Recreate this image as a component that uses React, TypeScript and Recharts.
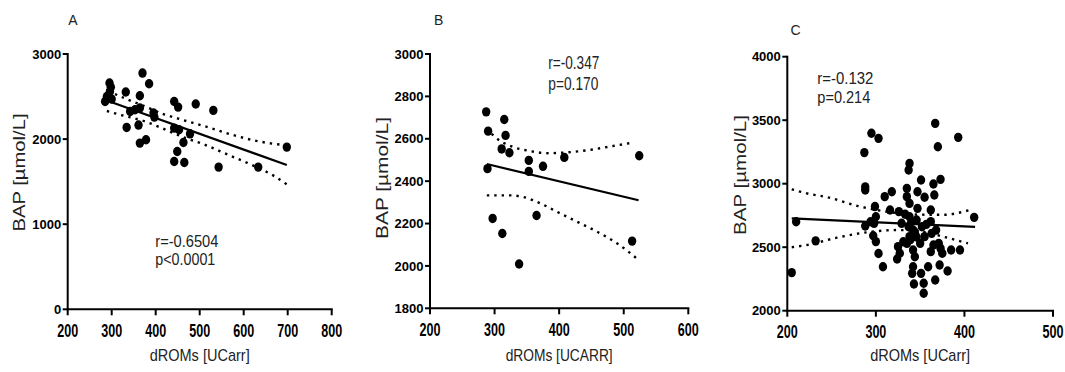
import { ComposedChart, Line, Scatter, XAxis, YAxis } from 'recharts';

const FONT = '"Liberation Sans", Arial, sans-serif';

// Panel A: dROMs vs BAP (n=33)
const aPoints = [
  { x: 285, y: 2442 }, { x: 295, y: 2659 }, { x: 296, y: 2560 }, { x: 289, y: 2501 },
  { x: 298, y: 2610 }, { x: 300, y: 2470 }, { x: 332, y: 2553 }, { x: 342, y: 2325 },
  { x: 353, y: 2345 }, { x: 364, y: 2365 }, { x: 364, y: 2509 }, { x: 370, y: 2776 },
  { x: 385, y: 2651 }, { x: 334, y: 2137 }, { x: 361, y: 2165 }, { x: 364, y: 1953 },
  { x: 378, y: 1992 }, { x: 395, y: 2306 }, { x: 397, y: 2259 }, { x: 442, y: 2442 },
  { x: 451, y: 2376 }, { x: 442, y: 2129 }, { x: 453, y: 2110 }, { x: 463, y: 1960 },
  { x: 449, y: 1854 }, { x: 442, y: 1737 }, { x: 465, y: 1725 }, { x: 478, y: 2062 },
  { x: 491, y: 2412 }, { x: 531, y: 2337 }, { x: 543, y: 1671 }, { x: 633, y: 1671 },
  { x: 698, y: 1906 },
];
const aFit = [{ x: 292, y: 2448 }, { x: 698, y: 1695 }];
const aUpper = [
  { x: 292, y: 2565 }, { x: 334, y: 2470 }, { x: 376, y: 2384 }, { x: 414, y: 2300 },
  { x: 459, y: 2229 }, { x: 512, y: 2150 }, { x: 573, y: 2052 }, { x: 626, y: 1982 },
  { x: 698, y: 1925 },
];
const aLower = [
  { x: 289, y: 2330 }, { x: 319, y: 2286 }, { x: 376, y: 2207 }, { x: 414, y: 2129 },
  { x: 459, y: 2031 }, { x: 512, y: 1933 }, { x: 565, y: 1815 }, { x: 618, y: 1698 },
  { x: 671, y: 1560 }, { x: 698, y: 1468 },
];

// Panel B (n=17)
const bPoints = [
  { x: 287, y: 2727 }, { x: 290, y: 2636 }, { x: 289, y: 2459 }, { x: 315, y: 2691 },
  { x: 317, y: 2616 }, { x: 311, y: 2552 }, { x: 323, y: 2534 }, { x: 353, y: 2498 },
  { x: 353, y: 2446 }, { x: 375, y: 2470 }, { x: 408, y: 2512 }, { x: 524, y: 2520 },
  { x: 297, y: 2224 }, { x: 312, y: 2153 }, { x: 338, y: 2009 }, { x: 365, y: 2238 },
  { x: 513, y: 2117 },
];
const bFit = [{ x: 288, y: 2481 }, { x: 523, y: 2310 }];
const bUpper = [
  { x: 288, y: 2650 }, { x: 298, y: 2616 }, { x: 329, y: 2561 }, { x: 350, y: 2545 },
  { x: 382, y: 2532 }, { x: 418, y: 2537 }, { x: 449, y: 2548 }, { x: 480, y: 2564 },
  { x: 513, y: 2581 },
];
const bLower = [
  { x: 288, y: 2333 }, { x: 324, y: 2333 }, { x: 345, y: 2325 }, { x: 366, y: 2302 },
  { x: 397, y: 2255 }, { x: 428, y: 2208 }, { x: 459, y: 2161 }, { x: 490, y: 2106 },
  { x: 523, y: 2028 },
];

// Panel C (dense cloud)
const cPoints = [
  { x: 205, y: 2300 }, { x: 210, y: 2700 }, { x: 232, y: 2550 }, { x: 287, y: 3245 },
  { x: 295, y: 3397 }, { x: 303, y: 3357 }, { x: 288, y: 2975 }, { x: 288, y: 2950 },
  { x: 288, y: 2667 }, { x: 294, y: 2700 }, { x: 299, y: 2820 }, { x: 300, y: 2740 },
  { x: 298, y: 2688 }, { x: 297, y: 2590 }, { x: 300, y: 2544 }, { x: 303, y: 2450 },
  { x: 308, y: 2346 }, { x: 310, y: 2898 }, { x: 318, y: 2937 }, { x: 316, y: 2793 },
  { x: 326, y: 2780 }, { x: 329, y: 2688 }, { x: 325, y: 2504 }, { x: 327, y: 2452 },
  { x: 324, y: 2407 }, { x: 331, y: 2543 }, { x: 338, y: 3160 }, { x: 337, y: 3108 },
  { x: 335, y: 2963 }, { x: 335, y: 2898 }, { x: 338, y: 2845 }, { x: 338, y: 2740 },
  { x: 337, y: 2661 }, { x: 338, y: 2583 }, { x: 342, y: 2635 }, { x: 335, y: 2530 },
  { x: 342, y: 2478 }, { x: 344, y: 2425 }, { x: 342, y: 2346 }, { x: 341, y: 2294 },
  { x: 343, y: 2210 }, { x: 351, y: 3029 }, { x: 347, y: 2937 }, { x: 355, y: 2893 },
  { x: 347, y: 2806 }, { x: 346, y: 2714 }, { x: 352, y: 2661 }, { x: 355, y: 2583 },
  { x: 350, y: 2530 }, { x: 362, y: 2793 }, { x: 362, y: 2701 }, { x: 363, y: 2609 },
  { x: 365, y: 2517 }, { x: 351, y: 2294 }, { x: 354, y: 2216 }, { x: 354, y: 2137 },
  { x: 359, y: 2346 }, { x: 367, y: 2242 }, { x: 372, y: 2360 }, { x: 381, y: 2313 },
  { x: 365, y: 2998 }, { x: 366, y: 2911 }, { x: 373, y: 3034 }, { x: 367, y: 3475 },
  { x: 370, y: 3291 }, { x: 393, y: 3365 }, { x: 368, y: 2635 }, { x: 371, y: 2530 },
  { x: 373, y: 2491 }, { x: 375, y: 2452 }, { x: 385, y: 2478 }, { x: 395, y: 2478 },
  { x: 362, y: 2465 }, { x: 411, y: 2735 }, { x: 346, y: 2580 }, { x: 340, y: 2700 },
  { x: 333, y: 2760 }, { x: 357, y: 2680 }, { x: 344, y: 2620 }, { x: 339, y: 2560 },
];
const cFit = [{ x: 205, y: 2727 }, { x: 412, y: 2660 }];
const cUpper = [
  { x: 205, y: 2956 }, { x: 222, y: 2924 }, { x: 246, y: 2892 }, { x: 280, y: 2824 },
  { x: 312, y: 2780 }, { x: 345, y: 2757 }, { x: 376, y: 2755 }, { x: 406, y: 2793 },
];
const cLower = [
  { x: 205, y: 2500 }, { x: 222, y: 2517 }, { x: 256, y: 2575 }, { x: 293, y: 2620 },
  { x: 323, y: 2635 }, { x: 350, y: 2625 }, { x: 376, y: 2583 }, { x: 404, y: 2530 },
];

const aXTicks = [200, 300, 400, 500, 600, 700, 800];
const aYTicks = [0, 1000, 2000, 3000];
const bXTicks = [200, 300, 400, 500, 600];
const bYTicks = [1800, 2000, 2200, 2400, 2600, 2800, 3000];
const cXTicks = [200, 300, 400, 500];
const cYTicks = [2000, 2500, 3000, 3500, 4000];

const YTick = (props: any) => (
  <text x={props.x} y={props.y} dy={4.6} textAnchor="end" fontSize={13} fontWeight="bold" fontFamily={FONT} fill="#000">
    {props.payload.value}
  </text>
);

// x tick labels are drawn tall and narrow in the original
const XTick = (props: any) => (
  <text
    transform={`translate(${props.x}, ${props.y + 21.5}) scale(0.68, 1)`}
    textAnchor="middle"
    fontSize={18.5}
    fontWeight="bold"
    fontFamily={FONT}
    fill="#000"
  >
    {props.payload.value}
  </text>
);

const XTitle = (props: any) => {
  const vb = props.viewBox || {};
  return (
    <text
      x={vb.x + vb.width / 2}
      y={361}
      textAnchor="middle"
      fontSize={17}
      fontFamily={FONT}
      fill="#222"
      textLength={props.len}
      lengthAdjust="spacingAndGlyphs"
    >
      {props.text}
    </text>
  );
};

const YTitle = (props: any) => (
  <text
    x={props.bx}
    y={props.cy}
    transform={`rotate(-90, ${props.bx}, ${props.cy})`}
    textAnchor="middle"
    fontSize={17}
    fontFamily={FONT}
    fill="#222"
    textLength={props.len}
    lengthAdjust="spacingAndGlyphs"
  >
    BAP [µmol/L]
  </text>
);

const Marker = (props: any) => <ellipse cx={props.cx} cy={props.cy} rx={4.2} ry={4.7} fill="#000" />;

const axisStyle = { stroke: '#000', strokeWidth: 2, strokeLinecap: 'square' as const };

function Panel(p: any) {
  return (
    <div style={{ position: 'absolute', left: p.left, top: 0, width: p.width, height: 372 }}>
      <ComposedChart width={p.width} height={372} margin={{ top: p.top, right: p.right, bottom: 0, left: 0 }}>
        <XAxis
          type="number"
          dataKey="x"
          domain={p.xDomain}
          ticks={p.xTicks}
          interval={0}
          allowDataOverflow
          height={p.xHeight}
          axisLine={axisStyle}
          tickLine={{ stroke: '#000', strokeWidth: 2 }}
          tickSize={6}
          tickMargin={0}
          tick={<XTick />}
          label={<XTitle text={p.xTitle} len={p.xTitleLen} />}
        />
        <YAxis
          type="number"
          dataKey="y"
          domain={p.yDomain}
          ticks={p.yTicks}
          interval={0}
          allowDataOverflow
          width={p.yWidth}
          axisLine={axisStyle}
          tickLine={{ stroke: '#000', strokeWidth: 2 }}
          tickSize={5}
          tickMargin={1.5}
          tick={<YTick />}
          label={<YTitle bx={p.yTitleX} cy={p.yTitleY} len={p.yTitleLen} />}
        />
        <Line data={p.upper} dataKey="y" type="monotone" stroke="#000" strokeWidth={2.4} strokeDasharray="2.4 5" dot={false} isAnimationActive={false} />
        <Line data={p.lower} dataKey="y" type="monotone" stroke="#000" strokeWidth={2.4} strokeDasharray="2.4 5" dot={false} isAnimationActive={false} />
        <Line data={p.fit} dataKey="y" type="linear" stroke="#000" strokeWidth={2.2} dot={false} isAnimationActive={false} />
        <Scatter data={p.points} fill="#000" shape={<Marker />} isAnimationActive={false} />
      </ComposedChart>
    </div>
  );
}

const Txt = (props: any) => (
  <text x={props.x} y={props.y} fontSize={props.fs} fontFamily={FONT} fill="#222" textLength={props.len} lengthAdjust="spacingAndGlyphs">
    {props.children}
  </text>
);

export default function App() {
  return (
    <div style={{ position: 'absolute', left: 0, top: 0, width: 1065, height: 372, background: '#fff', overflow: 'hidden' }}>
      <Panel
        left={0} width={360} top={54} right={28.3} xHeight={62.7} yWidth={67.7}
        xDomain={[200, 800]} xTicks={aXTicks} yDomain={[0, 3000]} yTicks={aYTicks}
        points={aPoints} fit={aFit} upper={aUpper} lower={aLower}
        xTitle="dROMs [UCarr]" xTitleLen={100} yTitleX={25} yTitleY={172.5} yTitleLen={118}
      />
      <Panel
        left={360} width={370} top={54} right={41.7} xHeight={63.7} yWidth={70}
        xDomain={[200, 600]} xTicks={bXTicks} yDomain={[1800, 3000]} yTicks={bYTicks}
        points={bPoints} fit={bFit} upper={bUpper} lower={bLower}
        xTitle="dROMs [UCARR]" xTitleLen={107} yTitleX={28} yTitleY={178} yTitleLen={122}
      />
      <Panel
        left={700} width={365} top={56.7} right={12} xHeight={61.3} yWidth={87.3}
        xDomain={[200, 500]} xTicks={cXTicks} yDomain={[2000, 4000]} yTicks={cYTicks}
        points={cPoints} fit={cFit} upper={cUpper} lower={cLower}
        xTitle="dROMs [UCarr]" xTitleLen={100} yTitleX={46} yTitleY={175} yTitleLen={120}
      />
      <svg width={1065} height={372} style={{ position: 'absolute', left: 0, top: 0, pointerEvents: 'none' }}>
        <Txt x={68.3} y={25} fs={14}>A</Txt>
        <Txt x={434} y={25} fs={14}>B</Txt>
        <Txt x={790.5} y={35} fs={14}>C</Txt>
        <Txt x={155.3} y={246.5} fs={16} len={63}>r=-0.6504</Txt>
        <Txt x={155.3} y={265} fs={16} len={60}>p&lt;0.0001</Txt>
        <Txt x={548.3} y={69.3} fs={17.5} len={51}>r=-0.347</Txt>
        <Txt x={548.3} y={90.3} fs={17.5} len={50}>p=0.170</Txt>
        <Txt x={817.3} y={84} fs={16} len={56}>r=-0.132</Txt>
        <Txt x={817.3} y={102.5} fs={16} len={53}>p=0.214</Txt>
      </svg>
    </div>
  );
}
